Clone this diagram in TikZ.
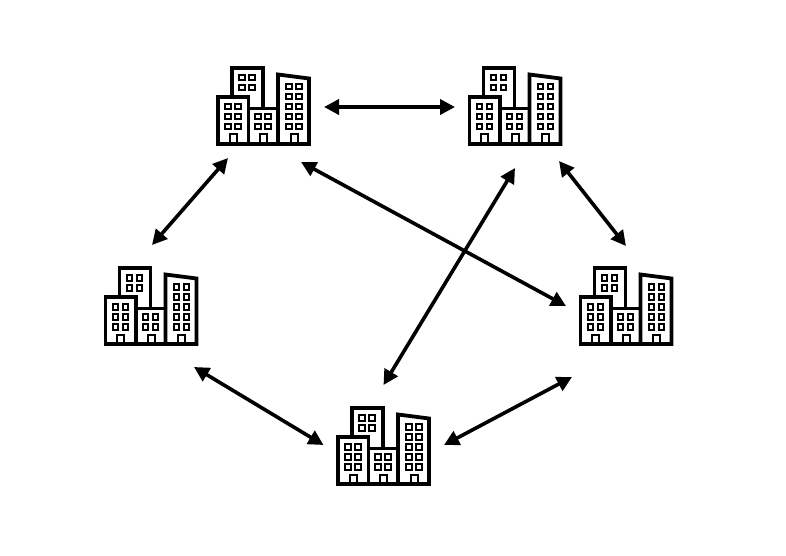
\documentclass[tikz,border=0pt]{standalone}
\usepackage{tikz}
\usetikzlibrary{arrows.meta}

\tikzset{
  edificios/.pic={
    \begin{scope}[shift={(-47.5,-40)}, muro, line join=miter]
      % --- Fachadas ---
      \draw (16,31) -- (16,2) -- (47,2) -- (47,42);
      \draw (2,31) rectangle (32.5,78);
      \draw (32.5,42.5) -- (62,42.5);
      \draw (62,78) -- (62,8.5) -- (93,12.5) -- (93,78) -- cycle;
      \draw (32.5,78) -- (62,78);
      % --- Puertas ---
      \foreach \px in {17.3,47.5,78}
        \draw[line width=2pt] (\px-3.5,78) -- (\px-3.5,68.5) -- (\px+3.5,68.5) -- (\px+3.5,78);
      % --- Ventanas ---
      \foreach \vx/\vy in {9/38,19/38,9/48,19/48,9/58,19/58,
                           39/48,49/48,39/58,49/58,
                           23/9,33/9,23/19,33/19,
                           70/18,80/18,70/28,80/28,70/38,80/38,70/48,80/48,70/58,80/58}
        \draw[ventana] (\vx,\vy) rectangle ++(5.5,5.5);
    \end{scope}
  }
}

\begin{document}
\begin{tikzpicture}[
    x=1pt, y=-1pt,
    hueco/.style={minimum width=95pt, minimum height=80pt, inner sep=0pt},
    muro/.style={draw=black, line width=3.8pt},
    ventana/.style={draw=black, line width=2pt},
    flecha/.style={{Triangle[length=15pt,width=15pt]}-{Triangle[length=15pt,width=15pt]},
                   draw=black, line width=3.6pt}
  ]
  \useasboundingbox (0,0) rectangle (786,556);

  % --- Ciudades ---
  \node[hueco] (ciudadA) at (263.5,106) {};
  \node[hueco] (ciudadB) at (515,106)   {};
  \node[hueco] (ciudadC) at (151,306)   {};
  \node[hueco] (ciudadD) at (626,306)   {};
  \node[hueco] (ciudadE) at (383.5,446) {};
  \foreach \nombre in {ciudadA,ciudadB,ciudadC,ciudadD,ciudadE}
    \pic at (\nombre) {edificios};

  % --- Enlaces ---
  \draw[flecha] ([shift={(60.5,1)}]ciudadA.center) -- ([shift={(-60,1)}]ciudadB.center);
  \draw[flecha] ([shift={(-35.5,52)}]ciudadA.center) -- ([shift={(1,-61)}]ciudadC.center);
  \draw[flecha] ([shift={(37.5,56)}]ciudadA.center) -- ([shift={(-60,0)}]ciudadD.center);
  \draw[flecha] ([shift={(0,62)}]ciudadB.center) -- ([shift={(0,-61)}]ciudadE.center);
  \draw[flecha] ([shift={(44,55)}]ciudadB.center) -- ([shift={(0,-60)}]ciudadD.center);
  \draw[flecha] ([shift={(43,61)}]ciudadC.center) -- ([shift={(-60,-1)}]ciudadE.center);
  \draw[flecha] ([shift={(-54,71)}]ciudadD.center) -- ([shift={(60.5,-1)}]ciudadE.center);
\end{tikzpicture}
\end{document}
